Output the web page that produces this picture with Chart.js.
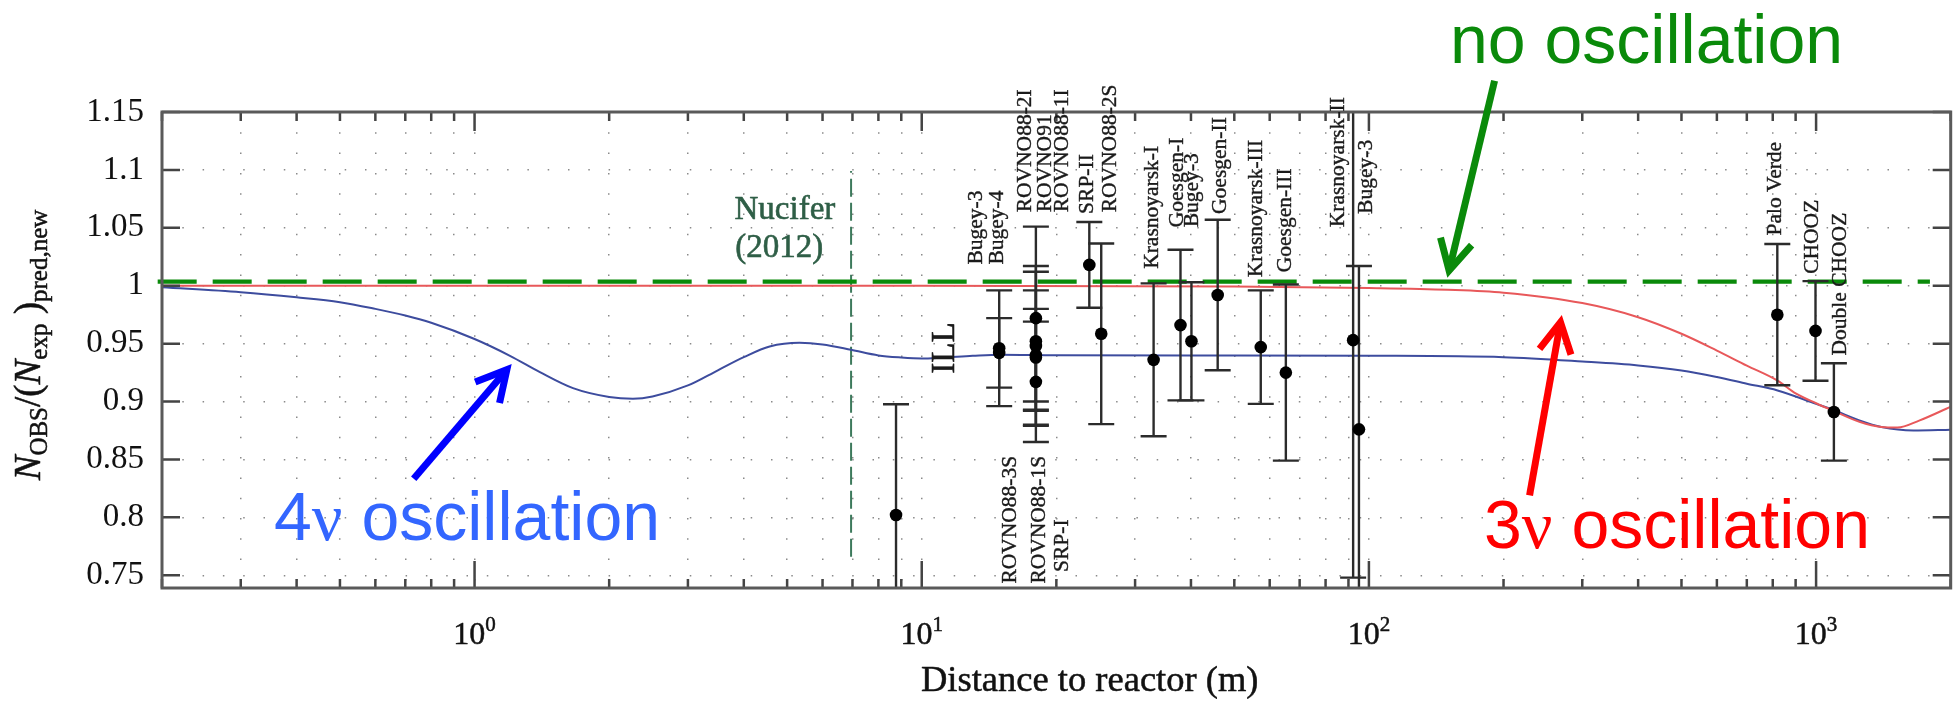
<!DOCTYPE html>
<html>
<head>
<meta charset="utf-8">
<script src="https://cdn.jsdelivr.net/npm/chart.js@4.4.1/dist/chart.umd.min.js"></script>
<style>
  html, body { margin: 0; padding: 0; background: #fff; }
  canvas { display: block; }
</style>
</head>
<body>
<canvas id="c" width="1957" height="701"></canvas>
<script>
// ---- Reactor experiments: distance (m), N_obs / N_exp ratio, 1-sigma error ----
const experiments = ['ILL', 'Bugey-4', 'Bugey-3', 'ROVNO88-1S', 'SRP-I', 'ROVNO88-2I', 'ROVNO91', 'ROVNO88-3S', 'ROVNO88-1I', 'SRP-II', 'ROVNO88-2S', 'Krasnoyarsk-I', 'Goesgen-I', 'Bugey-3', 'Goesgen-II', 'Krasnoyarsk-III', 'Goesgen-III', 'Krasnoyarsk-II', 'Bugey-3', 'Palo Verde', 'CHOOZ', 'Double CHOOZ'];
const distances = [8.76, 14.9, 14.9, 18.0, 18.0, 18.0, 18.0, 18.0, 18.0, 23.7, 25.2, 33.0, 37.9, 40.1, 45.9, 57.3, 65.2, 92.2, 95.0, 819, 997, 1096];
const ratios = [0.802, 0.942, 0.946, 0.972, 0.952, 0.948, 0.940, 0.938, 0.917, 1.018, 0.9585, 0.936, 0.966, 0.952, 0.992, 0.947, 0.925, 0.953, 0.876, 0.975, 0.961, 0.891];
const errors = [0.0957, 0.030, 0.050, 0.079, 0.060, 0.069, 0.040, 0.058, 0.052, 0.037, 0.078, 0.066, 0.065, 0.051, 0.065, 0.049, 0.076, 0.205, 0.141, 0.061, 0.043, 0.042];

// ---- Experiment name tags (rotated), placed by distance and the ratio where the text starts ----
const labelTexts = ['Bugey-3', 'Bugey-4', 'ROVNO88-2I', 'ROVNO91', 'ROVNO88-1I', 'SRP-II', 'ROVNO88-2S', 'Krasnoyarsk-I', 'Goesgen-I', 'Bugey-3', 'Goesgen-II', 'Krasnoyarsk-III', 'Goesgen-III', 'Krasnoyarsk-II', 'Bugey-3', 'Palo Verde', 'CHOOZ', 'Double CHOOZ', 'ROVNO88-3S', 'ROVNO88-1S', 'SRP-I'];
const labelDistances = [13.23, 14.74, 17.08, 18.86, 20.58, 23.44, 26.43, 32.73, 37.22, 40.2, 46.5, 56.13, 64.95, 85.4, 98.8, 812, 980, 1133, 15.82, 18.29, 20.61];
const labelBases = [1.0183, 1.0183, 1.0634, 1.0634, 1.0634, 1.062, 1.0634, 1.0146, 1.0505, 1.0505, 1.062, 1.0073, 1.0116, 1.0505, 1.062, 1.0433, 1.0103, 0.9398, 0.7428, 0.7428, 0.7528];

// ---- 3-neutrino oscillation expectation ----
const distances3nu = [0.2, 10, 50, 100, 150, 200, 300, 400, 500, 600, 700, 820, 900, 1000, 1100, 1250, 1400, 1520, 1700, 2000];
const ratio3nu = [1.0, 1.0, 0.9993, 0.998, 0.9965, 0.994, 0.985, 0.9728, 0.9585, 0.944, 0.931, 0.918, 0.907, 0.8985, 0.8915, 0.8825, 0.878, 0.8775, 0.8835, 0.8955];

// ---- 4-neutrino (sterile) oscillation expectation ----
const distances4nu = [0.2, 0.3, 0.4, 0.5, 0.6, 0.7, 0.8, 1.0, 1.2, 1.4, 1.66, 2.0, 2.26, 2.5, 3.0, 3.5, 4.0, 4.57, 5.33, 6.0, 6.95, 8.0, 9.0, 10, 11, 13, 15, 20, 50, 100, 200, 300, 400, 500, 600, 700, 820, 1000, 1100, 1250, 1400, 1650, 2000];
const ratio4nu = [0.9987, 0.9944, 0.990, 0.9858, 0.980, 0.9743, 0.968, 0.954, 0.9395, 0.9254, 0.9116, 0.904, 0.9025, 0.9044, 0.9139, 0.927, 0.9383, 0.9475, 0.9507, 0.9493, 0.9447, 0.9398, 0.938, 0.9372, 0.9378, 0.9395, 0.9405, 0.940, 0.9398, 0.9396, 0.9383, 0.9346, 0.9312, 0.9268, 0.9211, 0.9154, 0.9096, 0.898, 0.8923, 0.8837, 0.878, 0.875, 0.8757];

// ---- No-oscillation reference and Nucifer baseline ----
const noOscDistances = [0.1956, 1797];
const noOscRatio = 1.0036;
const nuciferDistance = 6.95;
const nuciferSpan = [0.766, 1.099];

// ---- Axis ticks ----
const yTickValues = [0.75, 0.8, 0.85, 0.9, 0.95, 1.0, 1.05, 1.1, 1.15];
const yTickLabels = ['0.75', '0.8', '0.85', '0.9', '0.95', '1', '1.05', '1.1', '1.15'];
const xTickExponents = [0, 1, 2, 3];
const xTickValues = [];
for (let e = -1; e <= 3; e++) {
  for (let m = 1; m <= 9; m++) {
    const v = m * Math.pow(10, e);
    if (v >= 0.2 - 1e-9 && v <= 2000 + 1e-9) xTickValues.push(+v.toPrecision(6));
  }
}

const SERIF = '"Liberation Serif", "Times New Roman", serif';
const SANS = '"Liberation Sans", Arial, Helvetica, sans-serif';

// text drawn with a hairline stroke so the serif faces read a little heavier
function heavyText(ctx, t, x, y, w) {
  ctx.lineWidth = w;
  ctx.strokeStyle = ctx.fillStyle;
  ctx.lineJoin = 'round';
  ctx.strokeText(t, x, y);
  ctx.fillText(t, x, y);
}
function drawRuns(ctx, runs, x, y, w) {
  let cx = x;
  runs.forEach(r => {
    ctx.font = r.font;
    ctx.fillStyle = r.color || ctx.fillStyle;
    if (w) heavyText(ctx, r.t, cx, y + (r.dy || 0), w);
    else ctx.fillText(r.t, cx, y + (r.dy || 0));
    cx += ctx.measureText(r.t).width;
  });
}
function runsWidth(ctx, runs) {
  let w = 0;
  runs.forEach(r => { ctx.font = r.font; w += ctx.measureText(r.t).width; });
  return w;
}
function drawArrow(ctx, x0, y0, x1, y1, color, width) {
  const dx = x1 - x0, dy = y1 - y0, L = Math.hypot(dx, dy);
  const ux = dx / L, uy = dy / L;
  const hl = 30, hw = 16;
  ctx.save();
  ctx.strokeStyle = color;
  ctx.lineWidth = width;
  ctx.lineCap = 'butt';
  ctx.lineJoin = 'miter';
  ctx.beginPath();
  ctx.moveTo(x0, y0);
  ctx.lineTo(x1 - ux * 3, y1 - uy * 3);
  ctx.stroke();
  ctx.beginPath();
  ctx.moveTo(x1 - ux * hl - uy * hw, y1 - uy * hl + ux * hw);
  ctx.lineTo(x1, y1);
  ctx.lineTo(x1 - ux * hl + uy * hw, y1 - uy * hl - ux * hw);
  ctx.stroke();
  ctx.restore();
}

const decorations = {
  id: 'decorations',
  beforeDatasetDraw(chart, args) {
    if (args.index !== 0) return;
    // error bars under the markers
    const { ctx, chartArea: a, scales: { x, y } } = chart;
    ctx.save();
    ctx.beginPath();
    ctx.rect(a.left, a.top, a.right - a.left, a.bottom - a.top);
    ctx.clip();
    ctx.strokeStyle = '#2b2b2b';
    ctx.lineWidth = 2.4;
    distances.forEach((d, i) => {
      const px = x.getPixelForValue(d);
      const yt = y.getPixelForValue(ratios[i] + errors[i]);
      const yb = y.getPixelForValue(ratios[i] - errors[i]);
      ctx.beginPath();
      ctx.moveTo(px, yt); ctx.lineTo(px, yb);
      ctx.moveTo(px - 13, yt); ctx.lineTo(px + 13, yt);
      ctx.moveTo(px - 13, yb); ctx.lineTo(px + 13, yb);
      ctx.stroke();
    });
    ctx.restore();
  },
  afterDatasetsDraw(chart) {
    const { ctx, chartArea: a, scales: { x, y } } = chart;
    ctx.save();
    // inward tick marks
    ctx.strokeStyle = '#444';
    ctx.lineWidth = 2.5;
    ctx.beginPath();
    xTickValues.forEach(v => {
      const px = x.getPixelForValue(v);
      const major = Math.abs(Math.log10(v) - Math.round(Math.log10(v))) < 1e-6;
      ctx.moveTo(px, a.bottom); ctx.lineTo(px, a.bottom - (major ? 27 : 9));
      ctx.moveTo(px, a.top); ctx.lineTo(px, a.top + (major ? 19 : 9));
    });
    yTickValues.forEach(v => {
      const py = y.getPixelForValue(v);
      ctx.moveTo(a.left, py); ctx.lineTo(a.left + 18, py);
      ctx.moveTo(a.right, py); ctx.lineTo(a.right - 18, py);
    });
    ctx.stroke();
    // frame
    ctx.strokeStyle = '#5a5a5a';
    ctx.lineWidth = 3;
    ctx.strokeRect(a.left, a.top, a.right - a.left, a.bottom - a.top);
    ctx.restore();
  },
  afterDraw(chart) {
    const { ctx, chartArea: a, scales: { x, y } } = chart;
    const X = v => x.getPixelForValue(v);
    const Y = v => y.getPixelForValue(v);
    ctx.save();
    ctx.textBaseline = 'alphabetic';
    ctx.textAlign = 'left';

    // x tick labels 10^n
    ctx.fillStyle = '#111';
    xTickExponents.forEach(e => {
      const runs = [{ t: '10', font: '32px ' + SERIF }, { t: String(e), font: '21px ' + SERIF, dy: -13 }];
      const w = runsWidth(ctx, runs);
      drawRuns(ctx, runs, X(Math.pow(10, e)) - w / 2, 644, 0.5);
    });

    // x title
    ctx.font = '36.5px ' + SERIF;
    ctx.fillStyle = '#111';
    heavyText(ctx, 'Distance to reactor (m)', 921, 691, 0.5);

    // y title (rotated)
    ctx.save();
    ctx.translate(40, 345);
    ctx.rotate(-Math.PI / 2);
    const big = '37px ' + SERIF, bigI = 'italic 37px ' + SERIF, sub = '25px ' + SERIF;
    const yRuns = [
      { t: 'N', font: bigI }, { t: 'OBS', font: sub, dy: 7 },
      { t: '/(', font: big }, { t: 'N', font: bigI }, { t: 'exp', font: sub, dy: 7 },
      { t: ' )', font: big }, { t: 'pred,new', font: sub, dy: 7 }
    ];
    ctx.fillStyle = '#111';
    drawRuns(ctx, yRuns, -runsWidth(ctx, yRuns) / 2, 0, 0.5);
    ctx.restore();

    // experiment name tags
    ctx.fillStyle = '#1a1a1a';
    ctx.textBaseline = 'middle';
    labelTexts.forEach((t, i) => {
      ctx.save();
      ctx.translate(X(labelDistances[i]), Y(labelBases[i]));
      ctx.rotate(-Math.PI / 2);
      ctx.font = '21.5px ' + SERIF;
      heavyText(ctx, t, 0, 0, 0.4);
      ctx.restore();
    });
    ctx.save();
    ctx.translate(X(11.32), Y(0.924));
    ctx.rotate(-Math.PI / 2);
    ctx.font = '33px ' + SERIF;
    heavyText(ctx, 'ILL', 0, 0, 0.6);
    ctx.restore();

    // Nucifer tag
    ctx.textBaseline = 'alphabetic';
    ctx.fillStyle = '#2e5e46';
    ctx.font = '33px ' + SERIF;
    heavyText(ctx, 'Nucifer', X(3.813), Y(1.058), 0.6);
    heavyText(ctx, '(2012)', X(3.83), Y(1.0246), 0.6);

    // annotations
    ctx.font = '68px ' + SANS;
    ctx.fillStyle = '#0a8a0a';
    ctx.fillText('no oscillation', X(151.8), Y(1.1926));
    drawRuns(ctx, [
      { t: '4', font: '68px ' + SANS, color: '#3366ff' },
      { t: 'ν', font: '68px ' + SERIF, color: '#3366ff' },
      { t: ' oscillation', font: '68px ' + SANS, color: '#3366ff' }
    ], X(0.356), Y(0.7802));
    drawRuns(ctx, [
      { t: '3', font: '68px ' + SANS, color: '#ff0000' },
      { t: 'ν', font: '68px ' + SERIF, color: '#ff0000' },
      { t: ' oscillation', font: '68px ' + SANS, color: '#ff0000' }
    ], X(180.8), Y(0.7733));

    drawArrow(ctx, X(191.0), Y(1.177), X(151.1), Y(1.0131), '#0a8a0a', 7);
    drawArrow(ctx, X(0.731), Y(0.8334), X(1.181), Y(0.9275), '#0000ff', 7);
    drawArrow(ctx, X(228.7), Y(0.819), X(268.2), Y(0.9685), '#ff0000', 7);
    ctx.restore();
  }
};

const toXY = (xs, ys) => xs.map((v, i) => ({ x: v, y: ys[i] }));

new Chart(document.getElementById('c'), {
  type: 'scatter',
  data: {
    datasets: [
      {
        label: 'Reactor experiments',
        data: toXY(distances, ratios),
        pointRadius: 6.3,
        pointBackgroundColor: '#000',
        pointBorderWidth: 0
      },
      {
        label: 'No oscillation',
        data: toXY(noOscDistances, noOscDistances.map(() => noOscRatio)),
        showLine: true, pointRadius: 0,
        borderColor: '#0a8a0a', borderWidth: 4.3, borderDash: [39, 16],
        clip: false
      },
      {
        label: '3ν oscillation',
        data: toXY(distances3nu, ratio3nu),
        showLine: true, pointRadius: 0,
        borderColor: '#e8585a', borderWidth: 2,
        cubicInterpolationMode: 'monotone'
      },
      {
        label: '4ν oscillation',
        data: toXY(distances4nu, ratio4nu),
        showLine: true, pointRadius: 0,
        borderColor: '#3d4c9e', borderWidth: 2,
        cubicInterpolationMode: 'monotone'
      },
      {
        label: 'Nucifer',
        data: [{ x: nuciferDistance, y: nuciferSpan[0] }, { x: nuciferDistance, y: nuciferSpan[1] }],
        showLine: true, pointRadius: 0,
        borderColor: '#3d7a5c', borderWidth: 2, borderDash: [18, 6]
      }
    ]
  },
  options: {
    responsive: false,
    animation: false,
    events: [],
    layout: { padding: { left: 0, top: 112, right: 4, bottom: 0 } },
    plugins: { legend: { display: false }, tooltip: { enabled: false } },
    scales: {
      x: {
        type: 'logarithmic',
        min: 0.2, max: 2000,
        afterBuildTicks: s => { s.ticks = xTickValues.map(v => ({ value: v })); },
        afterFit: s => { s.height = 113; },
        ticks: { display: false },
        grid: { color: '#8a8a8a', lineWidth: 1.5, drawTicks: false },
        border: { display: false, dash: [1.5, 18.8] }
      },
      y: {
        type: 'linear',
        min: 0.739, max: 1.15,
        afterBuildTicks: s => { s.ticks = yTickValues.map(v => ({ value: v })); },
        afterFit: s => { s.width = 162; },
        ticks: {
          padding: 18,
          color: '#111',
          font: { family: SERIF, size: 33 },
          callback: (v, i) => yTickLabels[i]
        },
        grid: { color: '#8a8a8a', lineWidth: 1.5, drawTicks: false },
        border: { display: false, dash: [1.5, 18.8] }
      }
    }
  },
  plugins: [decorations]
});
</script>
</body>
</html>
